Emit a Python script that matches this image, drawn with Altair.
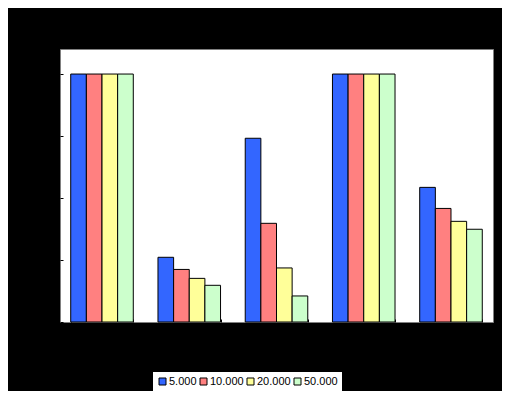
import altair as alt
import pandas as pd

categories = ["1", "2", "3", "4", "5"]
series = ["5.000", "10.000", "20.000", "50.000"]
values = {
    "5.000":  [100, 26.1, 74.1, 100, 54.3],
    "10.000": [100, 21.2, 39.8, 100, 45.8],
    "20.000": [100, 17.6, 21.8, 100, 40.6],
    "50.000": [100, 14.8, 10.5, 100, 37.4],
}
colors = ["#3366FF", "#FF8080", "#FFFF99", "#CCFFCC"]
y_ticks = [0, 25, 50, 75, 100]

rows = []
for s in series:
    for c, v in zip(categories, values[s]):
        rows.append({"cat": c, "series": s, "value": v})
df = pd.DataFrame(rows)

bars = alt.Chart(df).mark_bar(stroke="black", strokeWidth=1).encode(
    x=alt.X("cat:N", sort=categories,
            scale=alt.Scale(paddingInner=0.283, paddingOuter=0.123),
            axis=alt.Axis(title=None, labels=False, domain=False, tickBand="extent",
                          tickColor="black", tickSize=3, offset=-3)),
    xOffset=alt.XOffset("series:N", sort=series, scale=alt.Scale(paddingInner=0, paddingOuter=0)),
    y=alt.Y("value:Q", scale=alt.Scale(domain=[0, 110.1], nice=False),
            axis=alt.Axis(title=None, labels=False, domain=False, values=y_ticks,
                          tickColor="black", tickSize=3, offset=-3, grid=False)),
    fill=alt.Fill("series:N", sort=series,
                  scale=alt.Scale(domain=series, range=colors),
                  legend=alt.Legend(title=None, orient="none", legendX=93, legendY=323,
                                    direction="horizontal", columns=4,
                                    fillColor="white", padding=4,
                                    symbolType="square", symbolSize=49,
                                    symbolStrokeColor="black", symbolStrokeWidth=1,
                                    labelFont="Liberation Sans", labelFontSize=11,
                                    labelColor="black", labelOffset=1,
                                    columnPadding=1)),
)

chart = bars.properties(
    width=433, height=273,
    background="black",
    padding={"left": 52, "top": 41, "right": 9, "bottom": 69},
    autosize=alt.AutoSizeParams(type="none"),
).configure_view(
    fill="white", stroke="#808080", strokeWidth=1
)

chart.save("out.html", embed_options={"renderer": "svg", "actions": False})
